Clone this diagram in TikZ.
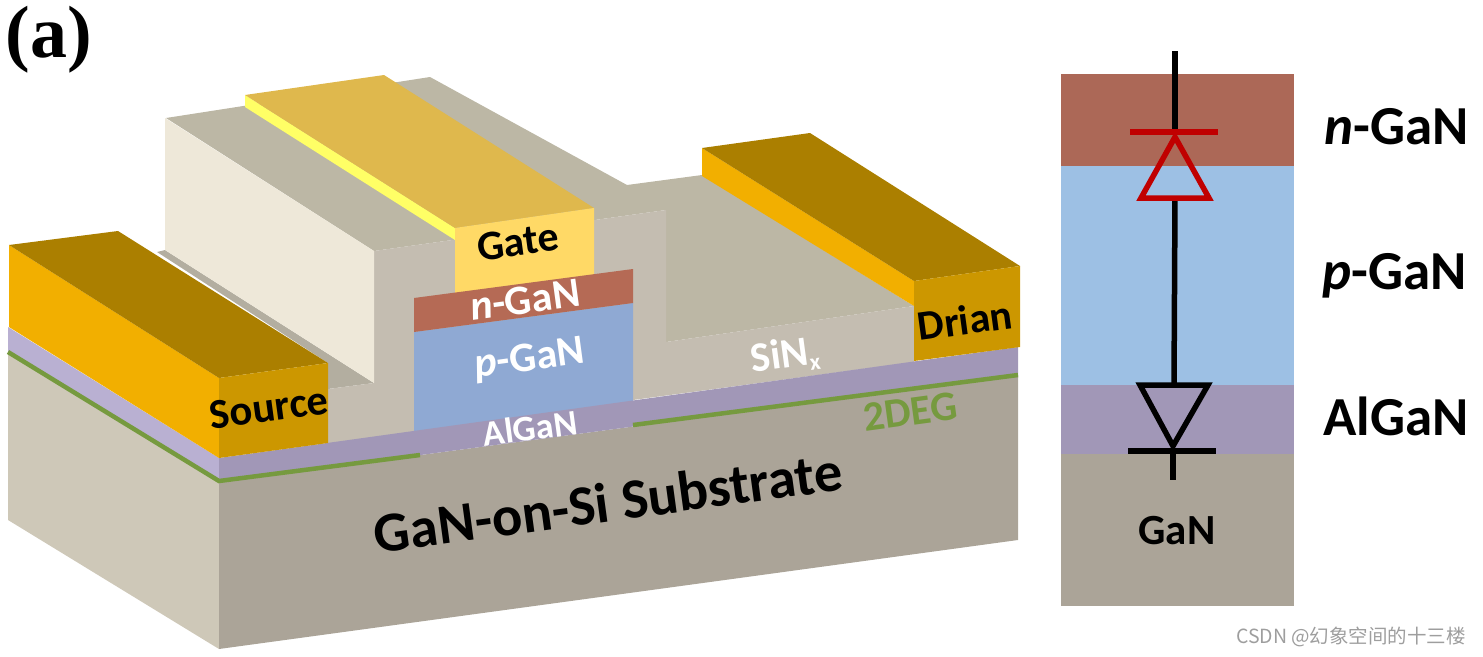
\documentclass[tikz,border=0pt]{standalone}
\usepackage{fontspec}
\setmainfont{Carlito}
\newfontfamily\timesfont{Liberation Serif}
\newfontfamily\cjkfont{Noto Sans CJK SC}
\definecolor{subfront}{HTML}{ABA498}
\definecolor{subside}{HTML}{CEC8B8}
\definecolor{lilacside}{HTML}{B9B0D2}
\definecolor{lilacfront}{HTML}{A197B7}
\definecolor{greenline}{HTML}{769A3F}
\definecolor{sinfront}{HTML}{C4BDB1}
\definecolor{sintop}{HTML}{BCB7A5}
\definecolor{sinside}{HTML}{EEE8D9}
\definecolor{shadow}{HTML}{B3AEA0}
\definecolor{goldtop}{HTML}{AB7F00}
\definecolor{goldside}{HTML}{F2AF00}
\definecolor{goldfront}{HTML}{CC9700}
\definecolor{gatetop}{HTML}{DFB84D}
\definecolor{gatefront}{HTML}{FFD966}
\definecolor{gatestrip}{HTML}{FFFF66}
\definecolor{ngan}{HTML}{B56A55}
\definecolor{pgan}{HTML}{8FA9D3}
\definecolor{nband}{HTML}{AC6857}
\definecolor{pband}{HTML}{9DC0E4}
\definecolor{diodered}{HTML}{C00000}
\tikzset{
  x=1pt, y=-1pt,
  face/.style={fill=#1, draw=none},
  lab/.style={inner sep=0pt, font=\bfseries\fontsize{#1}{#1}\selectfont},
  tilt/.style={rotate=7.7},
  wire/.style={draw=black, line width=5.5pt},
  rwire/.style={draw=diodered, line width=5.5pt},
  gline/.style={draw=greenline, line width=4.5pt},
}
\begin{document}
\begin{tikzpicture}
\useasboundingbox (0,0) rectangle (1483,656);
% substrate
\fill[face=subside] (8,352) -- (219,482) -- (219,649) -- (8,520) -- cycle;
\fill[face=subfront] (219,482) -- (1018,375) -- (1018,540) -- (219,649) -- cycle;
% strip behind source + block
\fill[face=shadow] (157,252) -- (165,250) -- (374,383) -- (328,389) -- (328,363) -- cycle;
% SiN block top and floor
\fill[face=sintop] (166,118) -- (430,77) -- (627,185) -- (702,175) -- (914,306) -- (666,342) -- (666,210) -- (374,251) -- cycle;
% SiN front
\fill[face=sinfront] (374,251) -- (666,210) -- (666,342) -- (914,306) -- (914,362) -- (633,400) -- (328,444) -- (328,389) -- (374,383) -- cycle;
% cream side
\fill[face=sinside] (165,118) -- (374,251) -- (374,383) -- (165,250) -- cycle;
% Gate
\fill[face=gatestrip] (245,95) -- (455,228) -- (455,240) -- (245,107) -- cycle;
\fill[face=gatetop] (245,95) -- (384,75) -- (594,208) -- (455,228) -- cycle;
\fill[face=gatefront] (455,228) -- (594,208) -- (594,285) -- (455,305) -- cycle;
% layers
\fill[face=pgan] (414,332) -- (633,303) -- (633,405) -- (414,435) -- cycle;
\fill[face=ngan] (414,298) -- (633,269) -- (633,303) -- (414,332) -- cycle;
% AlGaN
\fill[face=lilacside] (8,327) -- (219,458) -- (219,482) -- (8,352) -- cycle;
\fill[face=lilacfront] (219,458) -- (1018,347) -- (1018,375) -- (219,482) -- cycle;
% 2DEG lines
\coordinate (g1) at (8,352); \coordinate (g2) at (219,481); \coordinate (g3) at (420,455);
\coordinate (g4) at (633,425); \coordinate (g5) at (1018,375);
\draw[gline] (g1) -- (g2) -- (g3);
\draw[gline] (g4) -- (g5);
% Source
\fill[face=goldside] (9,245) -- (219,378) -- (219,458) -- (9,327) -- cycle;
\fill[face=goldtop] (9,245) -- (118,231) -- (328,363) -- (219,378) -- cycle;
\fill[face=goldfront] (219,378) -- (328,363) -- (328,443) -- (219,458) -- cycle;
% Drain
\fill[face=goldside] (702,148) -- (914,281) -- (914,306) -- (702,176) -- cycle;
\fill[face=goldtop] (702,148) -- (810,133) -- (1020,266) -- (914,281) -- cycle;
\fill[face=goldfront] (914,281) -- (1020,266) -- (1020,347) -- (914,361) -- cycle;
% labels on device
\node[lab=42.5, tilt] (source) at (269,408) {Source};
\node[lab=42, tilt] (gate) at (518,242) {Gate};
\node[lab=42, tilt] (drian) at (965,320) {Drian};
\node[lab=42, tilt, white] (nlab) at (525,300) {\textit{n}-GaN};
\node[lab=42, tilt, white] (plab) at (530,360) {\textit{p}-GaN};
\node[lab=36, tilt, white] (alg) at (530,428) {AlGaN};
\node[lab=42, tilt, white] (sinx) at (785,356) {SiN\raisebox{-6pt}{\fontsize{23}{23}\selectfont x}};
\node[lab=42, tilt, greenline] (deg) at (910,412) {2DEG};
\node[lab=56.5, tilt] (subs) at (608,502) {GaN-on-Si Substrate};
\node[inner sep=0pt, font=\timesfont\bfseries\fontsize{74}{74}\selectfont] (a) at (49,40) {(a)};
% right panel
\fill[face=nband] (1061,74) rectangle (1294,166);
\fill[face=pband] (1061,166) rectangle (1294,385);
\fill[face=lilacfront] (1061,385) rectangle (1294,454);
\fill[face=subfront] (1061,454) rectangle (1294,606);
\coordinate (t) at (1175,51); \coordinate (rb) at (1175,132);
\coordinate (rbl) at (1130,132); \coordinate (rbr) at (1218,132);
\coordinate (ra) at (1175,137); \coordinate (r1) at (1141,198); \coordinate (r2) at (1209,198);
\coordinate (rm) at (1175,198); \coordinate (ba) at (1174,385);
\coordinate (b1) at (1140,385); \coordinate (b2) at (1208,385); \coordinate (b3) at (1173,446);
\coordinate (bbl) at (1128,451); \coordinate (bbr) at (1216,451);
\coordinate (bc) at (1173,451); \coordinate (be) at (1173,480);
\draw[wire] (t) -- (rb);
\draw[wire] (rm) -- (ba);
\draw[rwire, miter limit=10] (ra) -- (r1) -- (r2) -- cycle;
\draw[rwire] (rbl) -- (rbr);
\draw[wire, miter limit=10] (b1) -- (b2) -- (b3) -- cycle;
\draw[wire] (bbl) -- (bbr);
\draw[wire] (bc) -- (be);
\node[lab=55] (rn) at (1397,127) {\textit{n}-GaN};
\node[lab=55] (rp) at (1395,276) {\textit{p}-GaN};
\node[lab=55] (rag) at (1396,416) {AlGaN};
\node[lab=43] (rg) at (1177,531) {GaN};
\node[inner sep=0pt, text=black!38, font=\cjkfont\fontsize{19.5}{19.5}\selectfont] (wm) at (1351,637) {CSDN @幻象空间的十三楼};
\end{tikzpicture}
\end{document}
